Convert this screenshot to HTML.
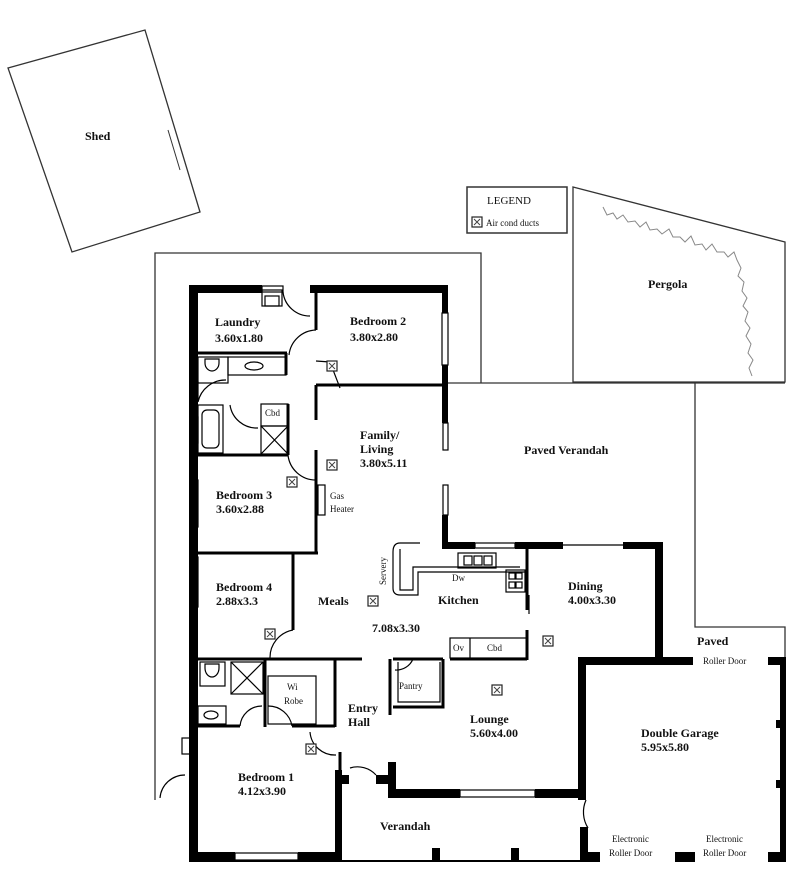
<!DOCTYPE html>
<html><head><style>
html,body{margin:0;padding:0;background:#fff;width:800px;height:872px;overflow:hidden}
svg text{font-family:"Liberation Serif",serif;fill:#111}
.b{font-weight:bold;font-size:12px}
.s{font-size:9px}
</style></head><body>
<svg width="800" height="872" viewBox="0 0 800 872" xmlns="http://www.w3.org/2000/svg">
<defs>
<g id="ac"><rect x="-5" y="-5" width="10" height="10" fill="#fff" stroke="#222" stroke-width="1.2"/><path d="M-3,-3 L3,3 M3,-3 L-3,3" stroke="#444" stroke-width="1"/></g>
</defs>
<g fill="none" stroke="#333" stroke-width="1.3">
<polygon points="8,68 145,30 200,212 72,252"/>
<path d="M168,130 L180,170" stroke-width="1"/>
<rect x="467" y="187" width="100" height="46" stroke-width="1.5"/>
<polygon points="573,187 785,242 785,382 573,382"/>
<path d="M155,800 L155,253 L481,253 L481,383"/>
<path d="M442,383 L785,383"/>
<path d="M695,383 L695,627 L785,627 L785,660"/>
<path d="M570,545 L655,545" stroke-width="1"/>
</g>
<!-- pergola vine -->
<path d="M603,207 l4,8 l6,-2 l4,6 l6,-4 l5,7 l7,-1 l5,6 l6,-5 l4,8 l7,-1 l5,5 l7,-5 l4,8 l7,0 l5,5 l6,-6 l4,9 l7,-1 l4,6 l6,-6 l5,8 l7,0 l4,5 l6,-5 l3,8 l4,8 l-3,8 l6,6 l-2,9 l5,7 l-4,8 l5,6 l-3,9 l5,7 l-4,8 l5,8 l-3,9 l5,7 l-4,8 l3,8" fill="none" stroke="#888" stroke-width="1"/>
<g fill="#000">
<rect x="189" y="285" width="73" height="8"/>
<rect x="310" y="285" width="138" height="8"/>
<rect x="189" y="285" width="9" height="577"/>
<rect x="442" y="285" width="6" height="28"/>
<rect x="442" y="365" width="6" height="58"/>
<rect x="442" y="515" width="6" height="33"/>
<rect x="442" y="542" width="33" height="7"/>
<rect x="515" y="542" width="48" height="7"/>
<rect x="623" y="542" width="40" height="7"/>
<rect x="655" y="542" width="8" height="123"/>
<rect x="578" y="657" width="115" height="8"/>
<rect x="768" y="657" width="18" height="8"/>
<rect x="780" y="657" width="6" height="205"/>
<rect x="776" y="720" width="8" height="8"/>
<rect x="776" y="780" width="8" height="8"/>
<rect x="578" y="657" width="8" height="143"/>
<rect x="580" y="827" width="8" height="35"/>
<rect x="580" y="852" width="20" height="10"/>
<rect x="675" y="852" width="20" height="10"/>
<rect x="768" y="852" width="18" height="10"/>
<rect x="388" y="789" width="72" height="9"/>
<rect x="535" y="789" width="51" height="9"/>
<rect x="388" y="762" width="8" height="36"/>
<rect x="376" y="775" width="16" height="9"/>
<rect x="335" y="775" width="14" height="9"/>
<rect x="335" y="770" width="7" height="92"/>
<rect x="190" y="852" width="45" height="10"/>
<rect x="298" y="852" width="44" height="10"/>
<rect x="432" y="848" width="8" height="14"/>
<rect x="511" y="848" width="8" height="14"/>
<rect x="189" y="400" width="9" height="17"/>
<rect x="189" y="443" width="9" height="37"/>
<rect x="189" y="527" width="9" height="30"/>
</g>
<rect x="189" y="860" width="395" height="2" fill="#000"/>
<g stroke="#000" stroke-width="3" fill="none">
<path d="M316,293 L316,330"/>
<path d="M316,385 L442,385"/>
<path d="M316,385 L316,420"/>
<path d="M316,450 L316,553"/>
<path d="M198,553 L318,553"/>
<path d="M198,455 L288,455"/>
<path d="M198,353 L287,353"/>
<path d="M286,353 L286,375"/>
<path d="M288,404 L288,455"/>
<path d="M293,553 L293,630"/>
<path d="M198,659 L295,659"/>
<path d="M268,659 L362,659"/>
<path d="M265,659 L265,727"/>
<path d="M335,659 L335,727"/>
<path d="M198,726 L240,726"/>
<path d="M292,726 L335,726"/>
<path d="M340,752 L340,785"/>
<path d="M390,659 L390,715"/>
<path d="M393,659 L443,659"/>
<path d="M443,659 L443,707 L393,707"/>
<path d="M527,549 L527,610"/>
<path d="M527,630 L527,660"/>
<path d="M450,659 L527,659"/>
</g>
<g stroke="#000" stroke-width="1.2" fill="none">
<rect x="262" y="286" width="21" height="6"/>
<rect x="442" y="313" width="6" height="52"/>
<rect x="443" y="423" width="5" height="27"/>
<rect x="443" y="485" width="5" height="30"/>
<rect x="190" y="382" width="8" height="18"/>
<rect x="190" y="417" width="8" height="26"/>
<rect x="190" y="480" width="8" height="47"/>
<rect x="190" y="557" width="8" height="50"/>
<rect x="235" y="853" width="63" height="7"/>
<rect x="460" y="790" width="75" height="7"/>
<rect x="475" y="543" width="40" height="5"/>
<rect x="262" y="290" width="20" height="16"/><rect x="265" y="296" width="14" height="10"/>
<rect x="228" y="357" width="58" height="18"/><ellipse cx="254" cy="366" rx="9" ry="4"/>
<rect x="198" y="357" width="30" height="26"/>
<path d="M205,363 a7,8 0 0 0 14,0 l0,-4 l-14,0 z"/>
<rect x="198" y="405" width="25" height="48"/><rect x="202" y="410" width="17" height="38" rx="5"/>
<rect x="261" y="404" width="27" height="22"/>
<rect x="261" y="426" width="27" height="28"/><path d="M261,426 L288,454 M288,426 L261,454"/>
<rect x="318" y="485" width="7" height="30"/>
<rect x="200" y="662" width="25" height="24"/>
<path d="M205,668 a7,9 0 0 0 14,0 l0,-4 l-14,0 z"/>
<rect x="231" y="662" width="32" height="32"/><path d="M231,662 L263,694 M263,662 L231,694"/>
<rect x="198" y="706" width="28" height="18"/><ellipse cx="211" cy="715" rx="7" ry="4"/>
<rect x="268" y="676" width="48" height="48"/>
<path d="M283,292 A27,27 0 0 0 310,316"/>
<path d="M316,330 A28,28 0 0 0 289,355"/>
<path d="M316,361 L330,362 L340,388"/>
<path d="M198,402 A28,28 0 0 1 226,380"/>
<path d="M230,405 A27,27 0 0 0 258,428"/>
<path d="M288,455 A28,28 0 0 0 316,480"/>
<path d="M293,630 A28,28 0 0 0 270,658"/>
<path d="M240,726 A22,22 0 0 1 262,706"/>
<path d="M268,706 A24,24 0 0 1 292,726"/>
<path d="M310,732 A25,25 0 0 0 336,755"/>
<path d="M350,768 A25,25 0 0 1 376,775"/>
<path d="M160,798 A25,25 0 0 1 185,775"/>
<path d="M395,670 A18,18 0 0 0 413,659"/>
<path d="M586,800 A30,30 0 0 0 588,828"/>
<rect x="182" y="738" width="9" height="16"/>
<path d="M420,543 L400,543 Q393,543 393,552 L393,588 Q393,595 400,595 L418,595 L418,572 L525,572"/>
<path d="M400,549 L400,590 L413,590 L413,567 L520,567"/>
<rect x="458" y="553" width="38" height="15"/><rect x="464" y="556" width="8" height="9"/><rect x="474" y="556" width="8" height="9"/><rect x="484" y="556" width="8" height="9"/>
<rect x="506" y="570" width="19" height="22"/><rect x="509" y="573" width="6" height="6"/><rect x="516" y="573" width="6" height="6"/><rect x="509" y="582" width="6" height="6"/><rect x="516" y="582" width="6" height="6"/>
<rect x="450" y="638" width="77" height="20"/><path d="M470,638 L470,658"/>
<path d="M398,662 L398,702 L440,702 L440,662"/>
<path d="M563,545 L623,545"/>
<path d="M529,595 L529,614"/>
</g>
<use href="#ac" x="332" y="366"/>
<use href="#ac" x="332" y="465"/>
<use href="#ac" x="292" y="482"/>
<use href="#ac" x="373" y="601"/>
<use href="#ac" x="270" y="634"/>
<use href="#ac" x="548" y="641"/>
<use href="#ac" x="497" y="690"/>
<use href="#ac" x="311" y="749"/>
<use href="#ac" x="477" y="222"/>
<text class="b" x="85" y="140">Shed</text>
<text x="487" y="204" font-size="11">LEGEND</text>
<text x="486" y="226" font-size="9">Air cond ducts</text>
<text class="b" x="648" y="288">Pergola</text>
<text class="b" x="215" y="326">Laundry</text><text class="b" x="215" y="342">3.60x1.80</text>
<text class="b" x="350" y="325">Bedroom 2</text><text class="b" x="350" y="341">3.80x2.80</text>
<text class="s" x="265" y="416">Cbd</text>
<text class="b" x="360" y="439">Family/</text><text class="b" x="360" y="453">Living</text><text class="b" x="360" y="467">3.80x5.11</text>
<text class="b" x="524" y="454">Paved Verandah</text>
<text class="s" x="330" y="499">Gas</text><text class="s" x="330" y="512">Heater</text>
<text class="b" x="216" y="499">Bedroom 3</text><text class="b" x="216" y="513">3.60x2.88</text>
<text class="b" x="216" y="591">Bedroom 4</text><text class="b" x="216" y="605">2.88x3.3</text>
<text class="s" transform="translate(386,585) rotate(-90)">Servery</text>
<text class="s" x="452" y="581">Dw</text>
<text class="b" x="318" y="605">Meals</text>
<text class="b" x="438" y="604">Kitchen</text>
<text class="b" x="372" y="632">7.08x3.30</text>
<text class="b" x="568" y="590">Dining</text><text class="b" x="568" y="604">4.00x3.30</text>
<text class="s" x="453" y="651">Ov</text><text class="s" x="487" y="651">Cbd</text>
<text class="b" x="697" y="645">Paved</text>
<text class="s" x="703" y="664">Roller Door</text>
<text class="s" x="399" y="689">Pantry</text>
<text class="s" x="287" y="690">Wi</text><text class="s" x="284" y="704">Robe</text>
<text class="b" x="348" y="712">Entry</text><text class="b" x="348" y="726">Hall</text>
<text class="b" x="470" y="723">Lounge</text><text class="b" x="470" y="737">5.60x4.00</text>
<text class="b" x="641" y="737">Double Garage</text><text class="b" x="641" y="751">5.95x5.80</text>
<text class="b" x="238" y="781">Bedroom 1</text><text class="b" x="238" y="795">4.12x3.90</text>
<text class="b" x="380" y="830">Verandah</text>
<text class="s" x="612" y="842">Electronic</text><text class="s" x="609" y="856">Roller Door</text>
<text class="s" x="706" y="842">Electronic</text><text class="s" x="703" y="856">Roller Door</text>
</svg>
</body></html>
